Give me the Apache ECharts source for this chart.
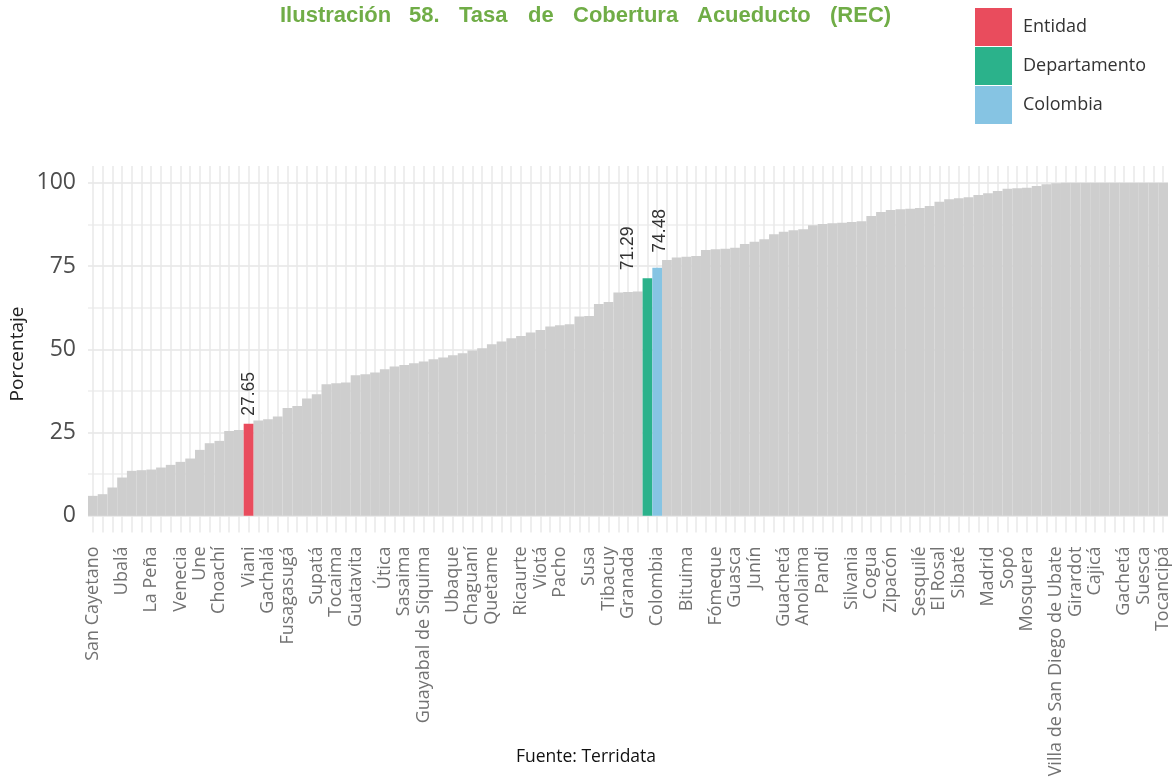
<!DOCTYPE html>
<html>
<head>
<meta charset="utf-8">
<script src="https://cdn.jsdelivr.net/npm/echarts@6/dist/echarts.min.js"></script>
<style>
  html, body { margin: 0; padding: 0; background: #ffffff; }
  #chart { width: 1172px; height: 778px; }
</style>
</head>
<body>
<div id="chart"></div>
<script>
// Municipios de Cundinamarca, el departamento y el país, ordenados por cobertura
const municipios = [
  'San Cayetano', 'Paime', 'Yacopí', 'Ubalá', 'Topaipí', 'Caparrapí', 'La Peña', 'Medina',
  'Paratebueno', 'Venecia', 'Guayabetal', 'Une', 'El Peñón', 'Choachí', 'Fosca', 'Gutiérrez',
  'Viani', 'Quipile', 'Gachalá', 'Vergara', 'Fusagasugá', 'Nimaima', 'Jerusalén', 'Supatá',
  'Pulí', 'Tocaima', 'San Francisco', 'Guatavita', 'Cabrera', 'Beltrán', 'Útica', 'Guataquí',
  'Sasaima', 'Gama', 'Guayabal de Siquima', 'Tibirita', 'Manta', 'Ubaque', 'Quebradanegra', 'Chaguaní',
  'La Palma', 'Quetame', 'Nariño', 'San Juan de Rioseco', 'Ricaurte', 'Villagómez', 'Viotá', 'Albán',
  'Pacho', 'Pasca', 'San Bernardo', 'Susa', 'Cachipay', 'Tibacuy', 'Tena', 'Granada',
  'Machetá', 'Cundinamarca', 'Colombia', 'Carmen de Carupa', 'Lenguazaque', 'Bituima', 'Cucunubá', 'Tausa',
  'Fómeque', 'Sutatausa', 'Guasca', 'Fúquene', 'Junín', 'Chipaque', 'Cáqueza', 'Guachetá',
  'Nocaima', 'Anolaima', 'Arbeláez', 'Pandi', 'Apulo', 'Nilo', 'Silvania', 'Anapoima',
  'Cogua', 'Agua de Dios', 'Zipacón', 'El Colegio', 'San Antonio del Tequendama', 'Sesquilé', 'La Vega', 'El Rosal',
  'Villeta', 'Sibaté', 'Simijaca', 'Guaduas', 'Madrid', 'Villapinzón', 'Sopó', 'Chocontá',
  'Mosquera', 'Nemocón', 'Subachoque', 'Villa de San Diego de Ubate', 'Bojacá', 'Girardot', 'La Mesa', 'Cajicá',
  'Gachancipá', 'Tabio', 'Gachetá', 'Cota', 'Suesca', 'Chía', 'Tocancipá'
];

// Tasa de cobertura de acueducto (%)
const cobertura = [
  6.0, 6.5, 8.5, 11.5, 13.5, 13.7, 13.9, 14.5,
  15.3, 16.2, 17.2, 19.8, 21.8, 22.5, 25.5, 25.8,
  27.65, 28.6, 29.0, 29.8, 32.4, 33.0, 35.2, 36.5,
  39.5, 39.8, 40.0, 42.2, 42.5, 43.0, 44.0, 44.8,
  45.3, 45.8, 46.3, 47.0, 47.5, 48.2, 48.8, 49.6,
  50.3, 51.5, 52.3, 53.3, 54.0, 55.0, 55.8, 56.8,
  57.2, 57.5, 59.8, 60.0, 63.6, 64.2, 67.0, 67.2,
  67.3, 71.29, 74.48, 76.8, 77.5, 77.8, 78.0, 79.8,
  80.0, 80.2, 80.5, 81.6, 82.3, 83.0, 84.5, 85.3,
  85.7, 86.0, 87.2, 87.6, 87.8, 88.0, 88.2, 88.4,
  90.0, 91.2, 91.8, 92.0, 92.2, 92.4, 93.0, 94.3,
  95.0, 95.3, 95.6, 96.3, 96.8, 97.5, 98.2, 98.3,
  98.5, 99.0, 99.5, 99.8, 100, 100, 100, 100,
  100, 100, 100, 100, 100, 100, 100
];

// Barras resaltadas
const entidad = 'Viani';
const departamento = 'Cundinamarca';
const pais = 'Colombia';

// Nombres que se rotulan en el eje horizontal
const etiquetasEje = [
  'San Cayetano', 'Ubalá', 'La Peña', 'Venecia', 'Une', 'Choachí', 'Viani', 'Gachalá',
  'Fusagasugá', 'Supatá', 'Tocaima', 'Guatavita', 'Útica', 'Sasaima', 'Guayabal de Siquima',
  'Ubaque', 'Chaguaní', 'Quetame', 'Ricaurte', 'Viotá', 'Pacho', 'Susa', 'Tibacuy', 'Granada',
  'Colombia', 'Bituima', 'Fómeque', 'Guasca', 'Junín', 'Guachetá', 'Anolaima', 'Pandi',
  'Silvania', 'Cogua', 'Zipacón', 'Sesquilé', 'El Rosal', 'Sibaté', 'Madrid', 'Sopó',
  'Mosquera', 'Villa de San Diego de Ubate', 'Girardot', 'Cajicá', 'Gachetá', 'Suesca', 'Tocancipá'
];

const yTicks = [0, 25, 50, 75, 100];
const tituloPalabras = ['Ilustración', '58.', 'Tasa', 'de', 'Cobertura', 'Acueducto', '(REC)'];

const colores = {
  resto: '#cecece',
  Entidad: '#e94c5d',
  Departamento: '#2bb28b',
  Colombia: '#86c4e3'
};

const destacados = [entidad, departamento, pais];
const soloUno = (nombre) => cobertura.map((v, i) => municipios[i] === nombre ? v : '-');
const restantes = cobertura.map((v, i) => destacados.includes(municipios[i]) ? '-' : v);

const n = municipios.length;
const transparente = 'rgba(0,0,0,0)';
// cycle of colours for the 2.5-step y ticks starting at -5: majors at 0, 25..., minors at 12.5, 37.5...
const hLineColors = [transparente, transparente, '#e6e6e6', transparente, transparente,
                     transparente, transparente, '#eeeeee', transparente, transparente];

// rotated value label; offset is in the label's own (rotated) frame: [along text, across text]
const etiquetaValor = (dist, across) => ({
  show: true,
  position: 'top',
  rotate: 90,
  align: 'left',
  verticalAlign: 'middle',
  distance: dist,
  offset: [0, across],
  fontFamily: 'Liberation Sans',
  fontSize: 17.5,
  color: '#333333',
  formatter: (p) => Number(p.value).toFixed(2)
});

// word-by-word title, justified across the header
const tituloX = [280, 409, 459, 528, 573, 697, 830];
const tituloGraficos = tituloPalabras.map((w, i) => ({
  type: 'text',
  left: tituloX[i],
  top: 5,
  style: {
    text: w,
    fill: '#70ad47',
    font: 'bold 22px "Liberation Sans", sans-serif'
  }
}));

const chart = echarts.init(document.getElementById('chart'), null, { renderer: 'canvas' });

chart.setOption({
  animation: false,
  backgroundColor: '#ffffff',
  grid: { left: 88, right: 4, top: 166, bottom: 245.5, containLabel: false, outerBoundsMode: 'none' },
  legend: {
    data: ['Entidad', 'Departamento', 'Colombia'],
    orient: 'vertical',
    left: 975,
    top: 8,
    padding: 0,
    icon: 'rect',
    itemWidth: 37,
    itemHeight: 38,
    itemGap: 1,
    selectedMode: false,
    textStyle: { fontFamily: 'Open Sans', fontSize: 18, color: '#333333', padding: [0, 0, 0, 6] }
  },
  graphic: tituloGraficos.concat([
    {
      type: 'text',
      left: 'center',
      top: 748,
      style: {
        text: 'Fuente: Terridata',
        fill: '#111111',
        font: '17.5px "Open Sans", sans-serif'
      }
    },
    {
      // y-axis title
      type: 'text',
      x: 18,
      y: 354,
      rotation: Math.PI / 2,
      style: {
        text: 'Porcentaje',
        fill: '#222222',
        font: '19px "Open Sans", sans-serif',
        align: 'center',
        verticalAlign: 'middle'
      }
    }
  ]),
  xAxis: [
    {
      type: 'category',
      data: municipios,
      boundaryGap: true,
      axisLine: { show: false, onZero: false },
      axisTick: { show: false },
      splitLine: { show: false },
      axisLabel: {
        rotate: 90,
        margin: 14,
        fontFamily: 'Open Sans',
        fontSize: 18,
        color: '#727272',
        interval: (idx, val) => etiquetasEje.includes(val)
      }
    },
    {
      // vertical grid lines at the centre of every category
      type: 'value',
      position: 'top',
      min: 0,
      max: 2 * n,
      interval: 1,
      axisLine: { show: false, onZero: false },
      axisTick: { show: false },
      axisLabel: { show: false },
      splitLine: { show: true, lineStyle: { color: [transparente, '#e9e9e9'], width: 1.5 } }
    }
  ],
  yAxis: {
    type: 'value',
    min: -5,
    max: 105,
    interval: 2.5,
    axisLine: { show: false },
    axisTick: { show: false },
    axisLabel: {
      margin: 12,
      fontFamily: 'Open Sans',
      fontSize: 23,
      color: '#4d4d4d',
      formatter: (v) => yTicks.includes(v) ? String(v) : ''
    },
    splitLine: { show: true, lineStyle: { color: hLineColors, width: 1.5 } }
  },
  series: [
    {
      name: 'Municipios',
      type: 'bar',
      data: restantes,
      itemStyle: { color: colores.resto },
      barGap: '-100%',
      barCategoryGap: '0%'
    },
    {
      name: 'Entidad',
      type: 'bar',
      data: soloUno(entidad),
      itemStyle: { color: colores.Entidad },
      barGap: '-100%',
      barCategoryGap: '0%',
      label: etiquetaValor(8, 1)
    },
    {
      name: 'Departamento',
      type: 'bar',
      data: soloUno(departamento),
      itemStyle: { color: colores.Departamento },
      barGap: '-100%',
      barCategoryGap: '0%',
      label: etiquetaValor(8, -19)
    },
    {
      name: 'Colombia',
      type: 'bar',
      data: soloUno(pais),
      itemStyle: { color: colores.Colombia },
      barGap: '-100%',
      barCategoryGap: '0%',
      label: etiquetaValor(15, 3)
    }
  ]
});
</script>
</body>
</html>
